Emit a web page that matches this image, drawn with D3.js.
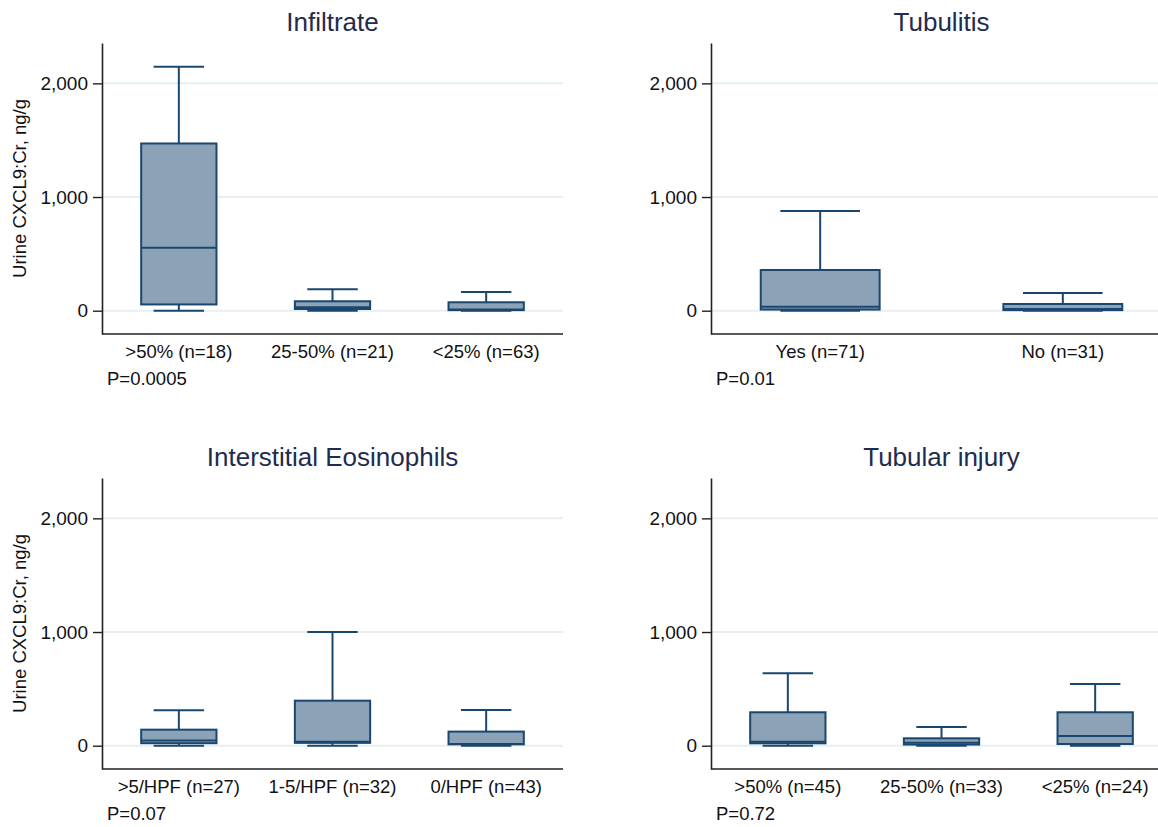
<!DOCTYPE html>
<html>
<head>
<meta charset="utf-8">
<script src="https://cdn.jsdelivr.net/npm/d3@7"></script>
<style>
  body { margin: 0; background: #fff; }
  text { font-family: "Liberation Sans", Arial, sans-serif; }
</style>
</head>
<body>
<script>
// values: [lower whisker, Q1, median, Q3, upper whisker]
var panelTitles = ['Infiltrate', 'Tubulitis', 'Interstitial Eosinophils', 'Tubular injury'];
var pValues = ['P=0.0005', 'P=0.01', 'P=0.07', 'P=0.72'];
var yTicks = [0, 1000, 2000];

var infiltrateCats = ['>50% (n=18)', '25-50% (n=21)', '<25% (n=63)'];
var infiltrateStats = [[0, 55, 553, 1471, 2146], [0, 15, 30, 83, 188], [0, 5, 10, 74, 164]];

var tubulitisCats = ['Yes (n=71)', 'No (n=31)'];
var tubulitisStats = [[0, 10, 35, 358, 877], [0, 5, 15, 59, 156]];

var eosinCats = ['>5/HPF (n=27)', '1-5/HPF (n=32)', '0/HPF (n=43)'];
var eosinStats = [[0, 22, 45, 141, 312], [0, 25, 35, 396, 1000], [0, 12, 14, 124, 314]];

var injuryCats = ['>50% (n=45)', '25-50% (n=33)', '<25% (n=24)'];
var injuryStats = [[0, 21, 35, 294, 637], [0, 10, 25, 65, 164], [0, 15, 85, 294, 543]];

var svg = d3.select('body').append('svg')
  .attr('width', 1158)
  .attr('height', 827);

var W = 461, H = 291;
var boxFill = '#8ca3b7', boxLine = '#1a476f';

var panels = [
  {title: panelTitles[0], cats: infiltrateCats, stats: infiltrateStats, p: pValues[0], x0: 102, y0: 43, ytitle: true, pad: 0.5},
  {title: panelTitles[1], cats: tubulitisCats, stats: tubulitisStats, p: pValues[1], x0: 711, y0: 43, ytitle: false, pad: 0.45},
  {title: panelTitles[2], cats: eosinCats, stats: eosinStats, p: pValues[2], x0: 102, y0: 478, ytitle: true, pad: 0.5},
  {title: panelTitles[3], cats: injuryCats, stats: injuryStats, p: pValues[3], x0: 711, y0: 478, ytitle: false, pad: 0.5}
];

panels.forEach(function(pn) {
  var g = svg.append('g');
  var y = d3.scaleLinear().domain([-205, 2355]).range([pn.y0 + H, pn.y0]);
  var x = d3.scalePoint().domain(pn.cats).range([pn.x0, pn.x0 + W]).padding(pn.pad);
  var bw = x.step() * 0.49;
  var cw = bw * 0.67;

  // gridlines
  g.selectAll('.grid').data(yTicks).enter().append('line')
    .attr('x1', pn.x0).attr('x2', pn.x0 + W)
    .attr('y1', function(d) { return y(d); })
    .attr('y2', function(d) { return y(d); })
    .style('stroke', '#e6eff2')
    .style('stroke-width', 2);

  // y axis
  var ax = g.append('g')
    .attr('transform', 'translate(' + pn.x0 + ',0)')
    .call(d3.axisLeft(y).tickValues(yTicks).tickSize(9).tickSizeOuter(0)
      .tickPadding(5).tickFormat(d3.format(',')));
  ax.select('.domain').style('stroke', '#222').style('stroke-width', 1.6);
  ax.selectAll('.tick line').style('stroke', '#222').style('stroke-width', 1.4);
  ax.selectAll('.tick text').style('font-size', '19px').style('fill', '#111')
    .style('font-family', '"Liberation Sans", Arial, sans-serif');

  // x axis line
  g.append('line')
    .attr('x1', pn.x0).attr('x2', pn.x0 + W)
    .attr('y1', pn.y0 + H).attr('y2', pn.y0 + H)
    .style('stroke', '#222').style('stroke-width', 1.6);

  // boxes
  var b = g.selectAll('.box').data(pn.stats).enter().append('g');
  b.append('line')
    .attr('x1', function(d, i) { return x(pn.cats[i]); })
    .attr('x2', function(d, i) { return x(pn.cats[i]); })
    .attr('y1', function(d) { return y(d[4]); })
    .attr('y2', function(d) { return y(d[0]); })
    .style('stroke', boxLine).style('stroke-width', 2);
  b.append('line')
    .attr('x1', function(d, i) { return x(pn.cats[i]) - cw / 2; })
    .attr('x2', function(d, i) { return x(pn.cats[i]) + cw / 2; })
    .attr('y1', function(d) { return y(d[4]); })
    .attr('y2', function(d) { return y(d[4]); })
    .style('stroke', boxLine).style('stroke-width', 2);
  b.append('line')
    .attr('x1', function(d, i) { return x(pn.cats[i]) - cw / 2; })
    .attr('x2', function(d, i) { return x(pn.cats[i]) + cw / 2; })
    .attr('y1', function(d) { return y(d[0]); })
    .attr('y2', function(d) { return y(d[0]); })
    .style('stroke', boxLine).style('stroke-width', 2);
  b.append('rect')
    .attr('x', function(d, i) { return x(pn.cats[i]) - bw / 2; })
    .attr('width', bw)
    .attr('y', function(d) { return y(d[3]); })
    .attr('height', function(d) { return y(d[1]) - y(d[3]); })
    .style('fill', boxFill).style('stroke', boxLine).style('stroke-width', 2);
  b.append('line')
    .attr('x1', function(d, i) { return x(pn.cats[i]) - bw / 2; })
    .attr('x2', function(d, i) { return x(pn.cats[i]) + bw / 2; })
    .attr('y1', function(d) { return y(d[2]); })
    .attr('y2', function(d) { return y(d[2]); })
    .style('stroke', boxLine).style('stroke-width', 2);

  // category labels
  g.selectAll('.cat').data(pn.cats).enter().append('text')
    .text(function(d) { return d; })
    .attr('x', function(d) { return x(d); })
    .attr('y', pn.y0 + 315)
    .attr('text-anchor', 'middle')
    .style('font-size', '18.5px').style('fill', '#111');

  g.append('text').text(pn.p)
    .attr('x', pn.x0 + 5).attr('y', pn.y0 + 342)
    .style('font-size', '18.5px').style('fill', '#111');

  g.append('text').text(pn.title)
    .attr('x', pn.x0 + W / 2).attr('y', pn.y0 - 12)
    .attr('text-anchor', 'middle')
    .style('font-size', '26px').style('fill', '#1e2c4e');

  if (pn.ytitle) {
    g.append('text').text('Urine CXCL9:Cr, ng/g')
      .attr('transform', 'translate(26,' + (pn.y0 + H / 2) + ') rotate(-90)')
      .attr('text-anchor', 'middle')
      .style('font-size', '18.5px').style('fill', '#111');
  }
});
</script>
</body>
</html>
